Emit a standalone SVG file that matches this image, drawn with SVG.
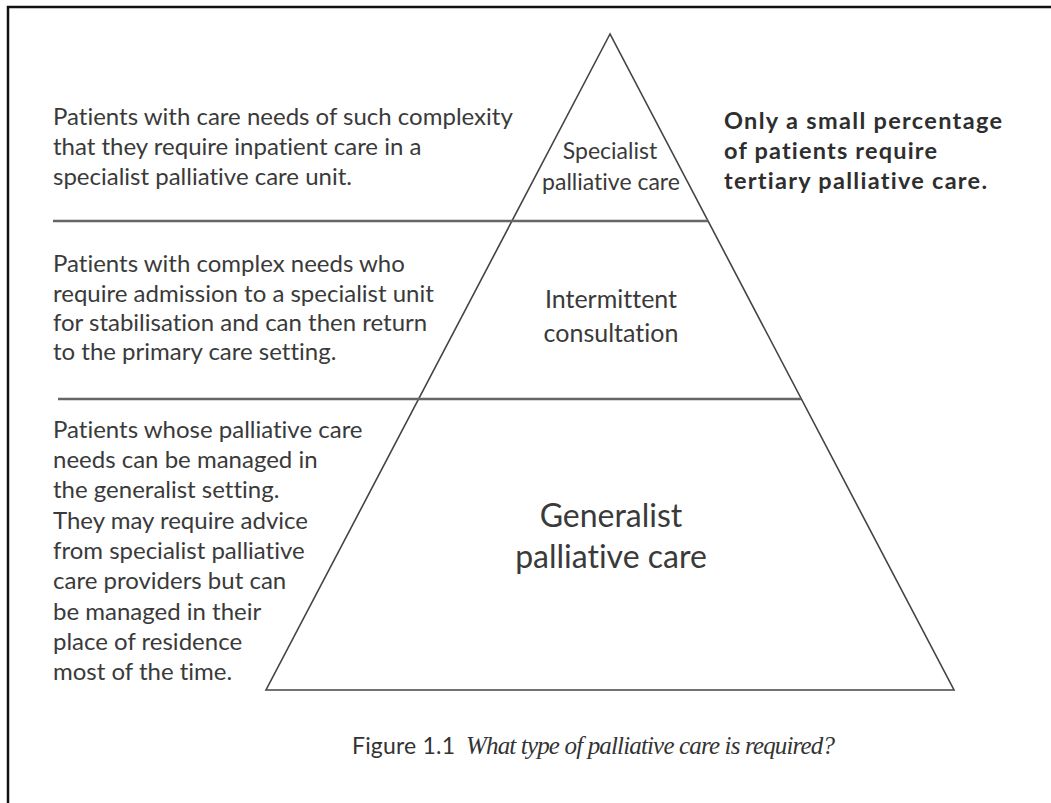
<svg xmlns="http://www.w3.org/2000/svg" width="1051" height="803" viewBox="0 0 1051 803">
  <style>
    text { font-variant-ligatures: none; }
    .body { font-family: "Lato", "Open Sans", "Liberation Sans", sans-serif; font-size: 24px; fill: #3a3a3a; }
    .bold { font-family: "Lato", "Open Sans", "Liberation Sans", sans-serif; font-size: 23.5px; font-weight: bold; fill: #2e2e2e; }
    .tier-s { font-family: "Lato", "Open Sans", "Liberation Sans", sans-serif; font-size: 23px; fill: #3a3a3a; text-anchor: middle; }
    .tier-m { font-family: "Lato", "Open Sans", "Liberation Sans", sans-serif; font-size: 25px; fill: #3a3a3a; text-anchor: middle; }
    .tier-l { font-family: "Lato", "Open Sans", "Liberation Sans", sans-serif; font-size: 32px; fill: #3a3a3a; text-anchor: middle; }
    .cap-sans { font-family: "Lato", "Open Sans", "Liberation Sans", sans-serif; font-size: 23px; fill: #333; }
    .cap-ital { font-family: "Liberation Serif", "DejaVu Serif", serif; font-style: italic; font-size: 25px; fill: #333; }
    .edge { stroke: #444; stroke-width: 1.6; fill: none; }
    .rule { stroke: #666; stroke-width: 2.6; fill: none; }
  </style>

  <rect x="0" y="0" width="1051" height="803" fill="#ffffff"/>

  <!-- page frame, open at right and bottom -->
  <path d="M1051 7 H8 V803" stroke="#111" stroke-width="2.5" fill="none"/>

  <!-- pyramid outline and tier dividers -->
  <g id="connectors">
    <path class="edge" d="M610 34 L266 690 H954 Z"/>
    <line class="rule" x1="53" y1="221" x2="708" y2="221"/>
    <line class="rule" x1="58" y1="399" x2="801" y2="399"/>
  </g>

  <!-- top tier -->
  <g id="tier-specialist">
    <text class="tier-s" x="610" y="159">Specialist</text>
    <text class="tier-s" x="611" y="190">palliative care</text>
  </g>
  <g id="desc-specialist">
    <text class="body" x="53" y="125">Patients with care needs of such complexity</text>
    <text class="body" x="53" y="155">that they require inpatient care in a</text>
    <text class="body" x="53" y="185">specialist palliative care unit.</text>
  </g>
  <g id="note-tertiary">
    <text class="bold" x="724" y="129" textLength="278" lengthAdjust="spacing">Only a small percentage</text>
    <text class="bold" x="724" y="159" textLength="213" lengthAdjust="spacing">of patients require</text>
    <text class="bold" x="724" y="189" textLength="263" lengthAdjust="spacing">tertiary palliative care.</text>
  </g>

  <!-- middle tier -->
  <g id="tier-intermittent">
    <text class="tier-m" x="611" y="308">Intermittent</text>
    <text class="tier-m" x="611" y="342">consultation</text>
  </g>
  <g id="desc-intermittent">
    <text class="body" x="53" y="272">Patients with complex needs who</text>
    <text class="body" x="53" y="302">require admission to a specialist unit</text>
    <text class="body" x="53" y="331">for stabilisation and can then return</text>
    <text class="body" x="53" y="360">to the primary care setting.</text>
  </g>

  <!-- base tier -->
  <g id="tier-generalist">
    <text class="tier-l" x="611" y="527">Generalist</text>
    <text class="tier-l" x="611" y="568">palliative care</text>
  </g>
  <g id="desc-generalist">
    <text class="body" x="53" y="438">Patients whose palliative care</text>
    <text class="body" x="53" y="468">needs can be managed in</text>
    <text class="body" x="53" y="498">the generalist setting.</text>
    <text class="body" x="53" y="529">They may require advice</text>
    <text class="body" x="53" y="559">from specialist palliative</text>
    <text class="body" x="53" y="589">care providers but can</text>
    <text class="body" x="53" y="620">be managed in their</text>
    <text class="body" x="53" y="650">place of residence</text>
    <text class="body" x="53" y="680">most of the time.</text>
  </g>

  <!-- figure caption -->
  <g id="caption">
    <text class="cap-sans" x="352" y="754" textLength="103" lengthAdjust="spacing">Figure 1.1</text>
    <text class="cap-ital" x="466" y="754" textLength="369" lengthAdjust="spacing">What type of palliative care is required?</text>
  </g>
</svg>
